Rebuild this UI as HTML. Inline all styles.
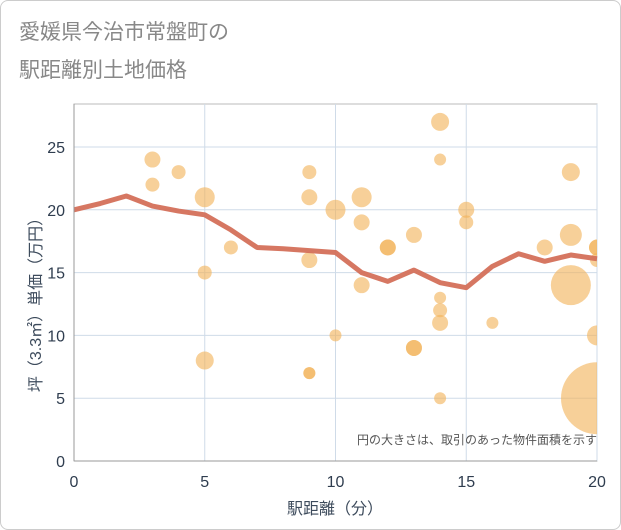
<!DOCTYPE html>
<html><head><meta charset="utf-8"><style>
body{margin:0;background:#fff;font-family:"Liberation Sans","Noto Sans CJK JP",sans-serif}
#wrap{position:relative;width:619px;height:528px;border:1px solid #ccc;border-radius:8px;overflow:hidden}
</style></head><body>
<div id="wrap">
<svg id="chart" width="621" height="530">
<text x="18" y="38" font-size="21" fill="#888">愛媛県今治市常盤町の</text>
<text x="18" y="76" font-size="21" fill="#888">駅距離別土地価格</text>
<defs><clipPath id="pc"><rect x="73" y="103" width="523" height="357"/></clipPath></defs>
<g id="grid"></g>
<g id="bubbles" clip-path="url(#pc)"></g>
<g id="line"></g>
<g id="axes"></g>
<text x="596" y="443" font-size="12" fill="#555" text-anchor="end">円の大きさは、取引のあった物件面積を示す</text>
<text x="334" y="513" font-size="16" fill="#3d4b5c" text-anchor="middle">駅距離（分）</text>
<text transform="translate(40,300) rotate(-90)" font-size="16" fill="#3d4b5c" text-anchor="middle">坪（3.3㎡）単価（万円）</text>
</svg></div>
<script>
const xTicks=[0,5,10,15,20];
const yTicks=[0,5,10,15,20,25];
const ptX=[3,3,4,5,5,5,6,9,9,9,9,9,10,10,11,11,11,12,12,13,13,13,14,14,14,14,14,14,15,15,16,18,19,19,19,20,20,20,20,20];
const ptY=[24,22,23,21,15,8,17,23,21,16,7,7,20,10,21,19,14,17,17,18,9,9,27,24,13,12,11,5,20,19,11,17,23,18,14,17,17,16,10,5];
const ptR=[8,7,7,10,7,9,7,7,8,8,6,6,10,6,10,8,8,8,8,8,8,8,9,6,6,7,8,6,8,7,6,8,9,11,20,8,8,7,10,36];
const lineX=[0,1,2,3,4,5,6,7,8,9,10,11,12,13,14,15,16,17,18,19,20];
const lineY=[20,20.5,21.1,20.3,19.9,19.6,18.4,17,16.9,16.75,16.6,15,14.3,15.2,14.2,13.8,15.5,16.5,15.9,16.4,16.1];
const X=v=>73+v*523/20, Y=v=>460-v*12.56;
const NS="http://www.w3.org/2000/svg";
function mk(t,p,a){const e=document.createElementNS(NS,t);for(const k in a)e.setAttribute(k,a[k]);p.appendChild(e);return e;}
const g=document.getElementById('grid'),ax=document.getElementById('axes');
mk('rect',g,{x:73,y:103,width:523,height:357,fill:'none',stroke:'#bbb'});
xTicks.forEach(t=>{const l=mk('line',g,{x1:X(t),x2:X(t),y1:103,y2:460,stroke:'#cfdbe8'});

const tx=mk('text',ax,{x:X(t),y:486,'font-size':16,fill:'#2f3d4f','text-anchor':'middle'});tx.textContent=t;
});
yTicks.forEach(t=>{const l=mk('line',g,{x1:73,x2:596,y1:Y(t),y2:Y(t),stroke:'#cfdbe8'});

const tx=mk('text',ax,{x:64,y:Y(t)+6,'font-size':16,fill:'#2f3d4f','text-anchor':'end'});tx.textContent=t;
});
mk('line',ax,{x1:73,x2:73,y1:103,y2:460,stroke:'#999'});
mk('line',ax,{x1:73,x2:596,y1:460,y2:460,stroke:'#999'});
const b=document.getElementById('bubbles');
ptX.forEach((v,i)=>{const c=mk('circle',b,{cx:X(v),cy:Y(ptY[i]),r:ptR[i],fill:'#f2b35a','fill-opacity':0.62});
});
const pts=lineX.map((v,i)=>X(v)+','+Y(lineY[i])).join(' ');
const pl=mk('polyline',document.getElementById('line'),{points:pts,fill:'none',stroke:'#d4705a',
'stroke-width':5,'stroke-linejoin':'round','stroke-opacity':0.95});

</script></body></html>
